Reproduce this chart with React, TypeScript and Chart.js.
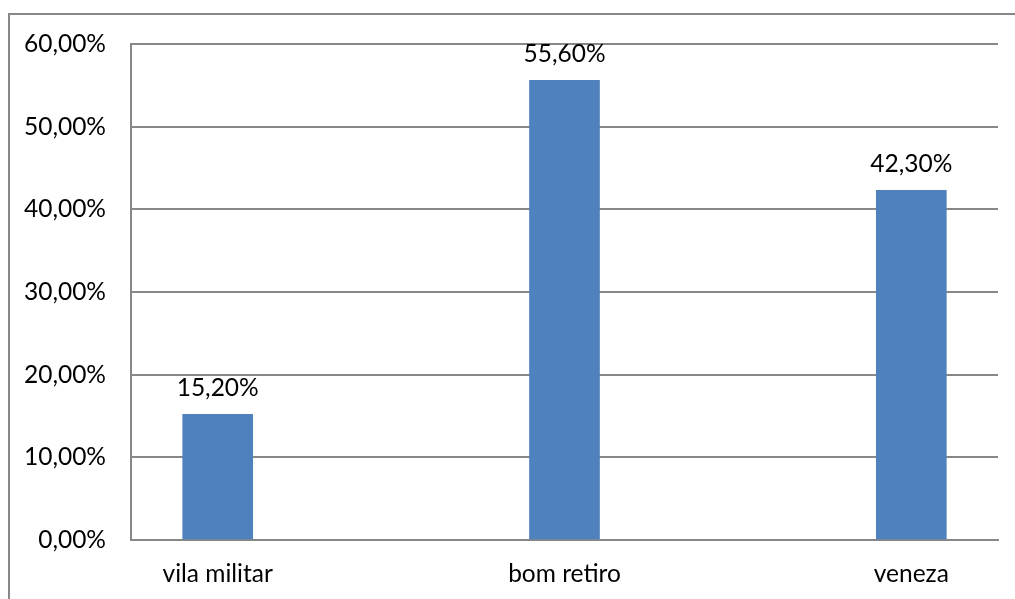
import React, { useEffect, useRef } from "react";
import { Chart, registerables } from "chart.js";

Chart.register(...registerables);

const categories = ["vila militar", "bom retiro", "veneza"];
const values = [15.2, 55.6, 42.3];
const yMin = 0;
const yMax = 60;
const yStep = 10;

const FONT = "Lato, 'Liberation Sans', sans-serif";
const FS = 24.5;
const fmt = (v: number) => v.toFixed(2).replace(".", ",") + "%";

const dataLabels = {
  id: "dataLabels",
  afterDatasetsDraw(chart: any) {
    const ctx = chart.ctx;
    const meta = chart.getDatasetMeta(0);
    ctx.save();
    ctx.fillStyle = "#000";
    ctx.font = `${FS}px ${FONT}`;
    ctx.textAlign = "center";
    ctx.textBaseline = "alphabetic";
    meta.data.forEach((el: any, i: number) => {
      ctx.fillText(fmt(values[i]), el.x, el.y - 18);
    });
    ctx.restore();
  },
};

export default function App() {
  const ref = useRef<HTMLCanvasElement>(null);
  useEffect(() => {
    if (!ref.current) return;
    const chart = new Chart(ref.current, {
      type: "bar",
      data: {
        datasets: [
          {
            data: values.map((v, i) => ({ x: i, y: v })),
            backgroundColor: "#4F81BD",
            borderWidth: 0,
            barThickness: 70,
          },
        ],
      },
      options: {
        animation: false,
        responsive: false,
        maintainAspectRatio: false,
        events: [],
        layout: { padding: { left: 0, top: 44, right: 17, bottom: 0 } },
        plugins: { legend: { display: false }, tooltip: { enabled: false } },
        scales: {
          x: {
            type: "linear",
            min: -0.25,
            max: 2.25,
            offset: false,
            afterBuildTicks: (s: any) => {
              s.ticks = categories.map((_, i) => ({ value: i }));
            },
            afterFit: (s: any) => {
              s.height = 59;
            },
            grid: { display: false, drawTicks: false },
            border: { display: true, color: "#878787", width: 2 },
            ticks: {
              color: "#000",
              font: { family: FONT, size: FS },
              padding: 19,
              maxRotation: 0,
              autoSkip: false,
              callback: (v: any) => categories[Math.round(Number(v))] ?? "",
            },
          },
          y: {
            min: yMin,
            max: yMax,
            afterFit: (s: any) => {
              s.width = 131;
            },
            grid: { color: "#878787", lineWidth: 2, drawTicks: false },
            border: { display: true, color: "#878787", width: 2 },
            ticks: {
              stepSize: yStep,
              color: "#000",
              font: { family: FONT, size: FS },
              padding: 25,
              callback: (v: any) => fmt(Number(v)),
            },
          },
        },
      },
      plugins: [dataLabels],
    });
    return () => chart.destroy();
  }, []);

  return (
    <div
      style={{
        position: "fixed",
        left: 0,
        top: 0,
        width: 1015,
        height: 599,
        overflow: "hidden",
        background: "#fff",
      }}
    >
      <div
        style={{
          position: "absolute",
          left: 8,
          top: 13,
          width: 1100,
          height: 700,
          border: "2px solid #878787",
          boxSizing: "border-box",
        }}
      />
      <canvas
        ref={ref}
        width={1015}
        height={599}
        style={{ position: "absolute", left: 0, top: 0, width: 1015, height: 599 }}
      />
    </div>
  );
}
